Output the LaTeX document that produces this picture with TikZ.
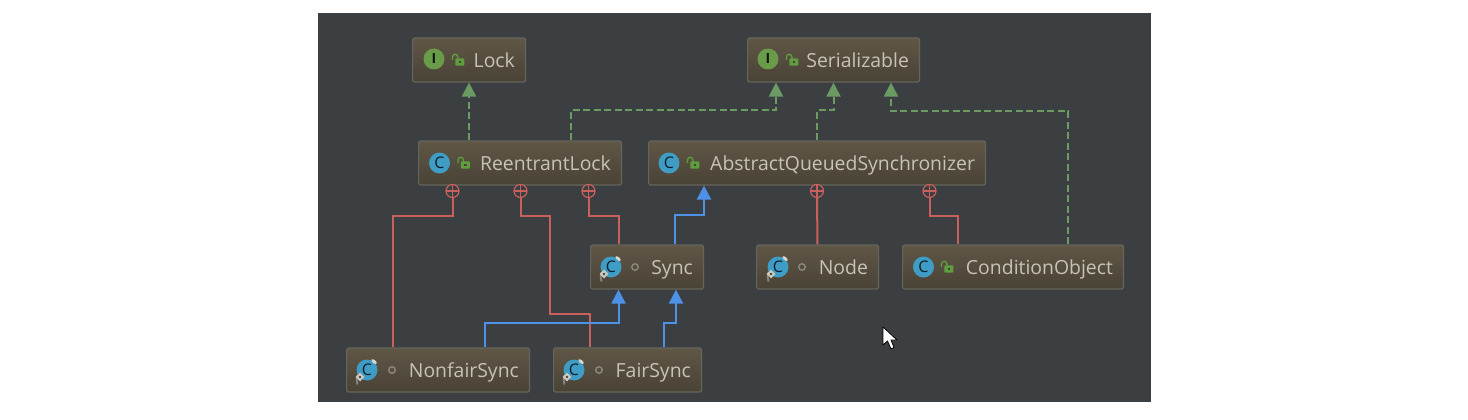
\documentclass[tikz,border=0pt]{standalone}
\usepackage{fontspec}
\setmainfont{Open Sans}
\usetikzlibrary{arrows.meta}
\definecolor{panelbg}{HTML}{3C3F41}
\definecolor{boxtop}{HTML}{605646}
\definecolor{boxbottom}{HTML}{494336}
\definecolor{boxline}{HTML}{65655C}
\definecolor{boxtext}{HTML}{C8C3B7}
\definecolor{implgreen}{HTML}{6C9A63}
\definecolor{iconGreen}{HTML}{6A9B4A}
\definecolor{iconBlue}{HTML}{3F9CC4}
\definecolor{lockGreen}{HTML}{5F9E3F}
\definecolor{assocRed}{HTML}{C9605C}
\definecolor{inheritBlue}{HTML}{4D92E6}
\tikzset{
    pics/padlock/.style={code={
        \draw[lockGreen, line width=1.3pt] (-5.5,0) -- (-5.5,-3) arc (180:360:2.7) -- (-0.1,-1);
        \fill[lockGreen, rounded corners=1pt] (-2.7,-1.7) rectangle (6.3,5.7);
        \fill[boxbottom] (0.6,0.9) rectangle (3,3.1);
    }},
    pics/innermark/.style={code={
        \draw[boxtext!55!panelbg, line width=1.8pt] (-9.5,5) arc (200:160:14);
        \fill[boxtext!70!white, rotate=-40] (0,-11) ellipse (3.2 and 1.6);
        \fill[boxtext!90!white] (-7,2.5) -- (-2.6,7) -- (-7,11.5) -- (-11.4,7) -- cycle;
        \fill[boxbottom] (-7,5.7) -- (-5.7,7) -- (-7,8.3) -- (-8.3,7) -- cycle;
    }}
}
\begin{document}
\begin{tikzpicture}[
        x=1pt, y=-1pt,
        every node/.style={font=\fontsize{19.4}{23}\selectfont},
        box/.style={draw=boxline, line width=1.2pt, rounded corners=1.5pt, top color=boxtop, bottom color=boxbottom, text=boxtext, align=right, inner xsep=10.5pt, inner ysep=0pt, minimum height=44pt, text height=17pt, text depth=3pt},
        iface/.style={circle, fill=iconGreen, minimum size=21pt, inner sep=0pt, text=black!85!iconGreen, font=\fontsize{14}{14}\selectfont\bfseries},
        class/.style={circle, fill=iconBlue, minimum size=21pt, inner sep=0pt, text=black!80!iconBlue, font=\fontsize{16}{16}\selectfont},
        pkgdot/.style={circle, draw=boxtext!70!black, line width=1.4pt, minimum size=6.5pt, inner sep=0pt},
        plus/.style={circle, draw=assocRed, fill=panelbg, line width=1.2pt, minimum size=13pt, inner sep=0pt, path picture={
            \draw[assocRed, line width=1.1pt] (path picture bounding box.west) -- (path picture bounding box.east) (path picture bounding box.north) -- (path picture bounding box.south);}},
        impl/.style={draw=implgreen, line width=2pt, dash pattern=on 7pt off 3.5pt, -{Triangle[fill=implgreen, width=14pt, length=14pt, sep=0pt]}},
        extend/.style={draw=inheritBlue, line width=2pt, -{Triangle[fill=inheritBlue, width=14pt, length=14pt]}},
        assoc/.style={draw=assocRed, line width=2pt}
    ]
        \useasboundingbox (0,0) rectangle (1468,420);
        \fill[white] (0,0) rectangle (1468,420);
        \fill[panelbg] (318,13) rectangle (1151,402);

        \node[box, text width=91.8pt]  (lock)   at (469, 60)   {Lock};
        \node[box, text width=150.8pt] (serial) at (833.5, 60) {Serializable};
        \node[box, text width=181.8pt] (rlock)  at (520, 163)  {ReentrantLock};
        \node[box, text width=315.8pt] (aqs)    at (817, 163)  {AbstractQueuedSynchronizer};
        \node[box, text width=91.8pt]  (sync)   at (647, 267)  {Sync};
        \node[box, text width=100.8pt] (qnode)  at (817.5, 267) {Node};
        \node[box, text width=199.8pt] (cond)   at (1013, 267) {ConditionObject};
        \node[box, text width=161.8pt] (nonfair) at (438, 370) {NonfairSync};
        \node[box, text width=126.8pt] (fair)   at (627.5, 370) {FairSync};

        \node[iface] (lockI)   at (434, 59)    {I};
        \node[iface] (serialI) at (768, 59)    {I};
        \node[class] (rlockC)  at (439.5, 163) {C};
        \node[class] (aqsC)    at (669, 163)   {C};
        \node[class] (syncC)   at (611, 267)   {C};
        \node[class] (qnodeC)  at (778, 267)   {C};
        \node[class] (condC)   at (923.5, 267) {C};
        \node[class] (nonfairC) at (367, 370)  {C};
        \node[class] (fairC)   at (574, 370)   {C};

        \pic at (458, 60)    {padlock};
        \pic at (792, 60)    {padlock};
        \pic at (463.5, 163) {padlock};
        \pic at (693, 163)   {padlock};
        \pic at (947, 267)   {padlock};
        \pic at (syncC)      {innermark};
        \pic at (qnodeC)     {innermark};
        \pic at (nonfairC)   {innermark};
        \pic at (fairC)      {innermark};

        \node[pkgdot] (syncV)    at (635, 267) {};
        \node[pkgdot] (qnodeV)   at (802, 267) {};
        \node[pkgdot] (nonfairV) at (392, 370) {};
        \node[pkgdot] (fairV)    at (599, 370) {};

        \node[plus] (plusNonfair) at (452.5, 191) {};
        \node[plus] (plusFair)    at (520.5, 191) {};
        \node[plus] (plusSync)    at (588.5, 191) {};
        \node[plus] (plusNode)    at (817, 191) {};
        \node[plus] (plusCond)    at (929.5, 191) {};

        \draw[impl] ([xshift=51pt]rlock.north west) -- ([xshift=57pt]lock.south west);
        \draw[impl] ([xshift=153pt]rlock.north west) -- ++(0,-30) -| ([xshift=29pt]serial.south west);
        \draw[impl] (aqs.north) -- ++(0,-30) -| (serial.south);
        \draw[impl] ([xshift=166pt]cond.north west) -- ++(0,-133) -| ([xshift=144pt]serial.south west);

        \draw[assoc] (plusNonfair.south) -- ++(0,17.5) -| ([xshift=47pt]nonfair.north west);
        \draw[assoc] (plusFair.south) -- ++(0,17.5) -- ++(29,0) -- ++(0,98) -| ([xshift=37pt]fair.north west);
        \draw[assoc] (plusSync.south) -- ++(0,17.5) -| ([xshift=28.5pt]sync.north west);
        \draw[assoc] (plusNode.south) -- (qnode.north);
        \draw[assoc] (plusCond.south) -- ++(0,17.5) -| ([xshift=56pt]cond.north west);

        \draw[extend] ([xshift=85pt]sync.north west) -- ++(0,-29) -| ([xshift=56pt]aqs.south west);
        \draw[extend] ([xshift=139pt]nonfair.north west) -- ++(0,-24) -| ([xshift=28.5pt]sync.south west);
        \draw[extend] ([xshift=111pt]fair.north west) -- ++(0,-24) -| ([xshift=86pt]sync.south west);

        \filldraw[fill=white, draw=black, line width=.8pt, line join=round] (883,327) -- (883,345) -- (887.5,341) -- (891,349) -- (894,347.5) -- (891,340) -- (897,340) -- cycle;
    \end{tikzpicture}
\end{document}
